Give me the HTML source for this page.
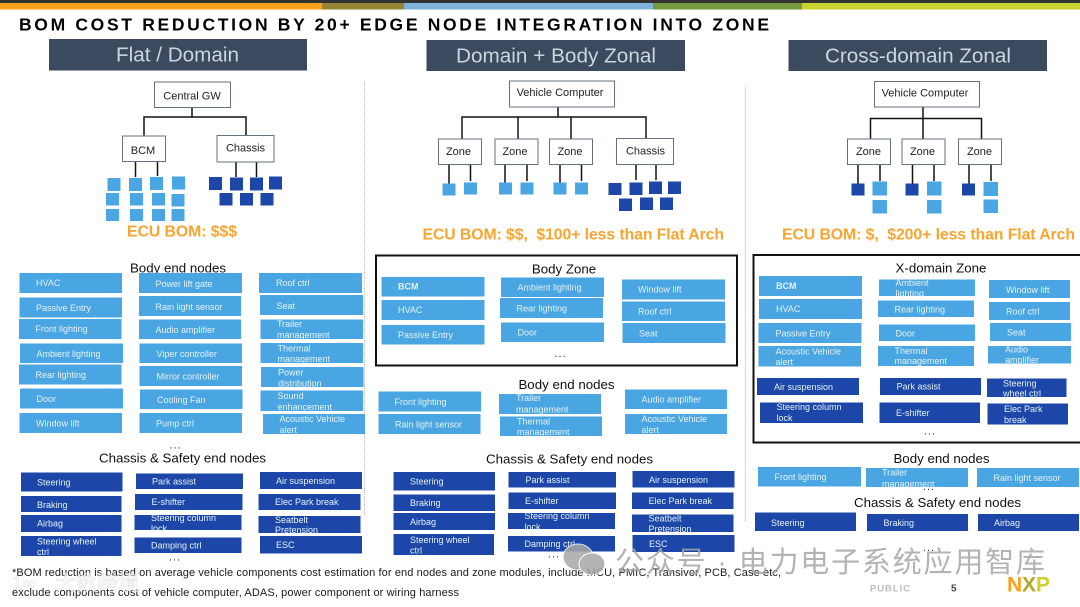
<!DOCTYPE html>
<html><head><meta charset="utf-8"><style>
html,body{margin:0;padding:0;background:#fff;width:1080px;height:607px;overflow:hidden}
svg{display:block;font-family:"Liberation Sans","Noto Sans CJK SC",sans-serif;filter:blur(.35px)}
text{dominant-baseline:central;white-space:pre}
.l{fill:#4aa6e2}.d{fill:#1c47a8}
.t{font-size:9px;fill:#e6f2fb}.b{font-weight:bold}
.h{font-size:13.3px;fill:#111;text-anchor:middle}
.n{fill:#fff;stroke:#64717f;stroke-width:1}
.nt{font-size:11px;fill:#222;text-anchor:middle}
.w{stroke:#111;stroke-width:1.5;fill:none}
.e{font-size:15.8px;font-weight:bold;fill:#f9a42e}
.hd{fill:#3b4a5e}.ht{font-size:20.7px;fill:#cdd5de}
.dots{font-size:11px;fill:#333;text-anchor:middle;letter-spacing:1px}
</style></head><body>
<svg width="1080" height="607" viewBox="0 0 1080 607" xmlns="http://www.w3.org/2000/svg">
<rect width="1080" height="607" fill="#fff"/>
<rect width="1080" height="3" fill="#333"/>
<rect y="3" width="322" height="6.5" fill="#f9a11b"/><rect x="322" y="3" width="82" height="6.5" fill="#958433"/><rect x="404" y="3" width="249" height="6.5" fill="#7fb3dc"/><rect x="653" y="3" width="149" height="6.5" fill="#739a3e"/><rect x="802" y="3" width="278" height="6.5" fill="#c9d22f"/>
<text x="19" y="24.5" font-size="17.5" font-weight="bold" fill="#000" textLength="750">BOM COST REDUCTION BY 20+ EDGE NODE INTEGRATION INTO ZONE</text>

<rect class="hd" x="49" y="39" width="258" height="31.5"/><text class="ht" x="116" y="55" textLength="123">Flat / Domain</text>
<rect class="hd" x="426.5" y="40" width="258.5" height="31"/><text class="ht" x="456" y="56" textLength="200">Domain + Body Zonal</text>
<rect class="hd" x="788.5" y="40" width="258.5" height="31"/><text class="ht" x="825" y="56" textLength="186">Cross-domain Zonal</text>

<line x1="364.5" y1="82" x2="364.5" y2="516" stroke="#bbb" stroke-dasharray="1 1"/>
<line x1="745.5" y1="86" x2="745.5" y2="521" stroke="#bbb" stroke-dasharray="1 1"/>

<!-- Diagram 1 -->
<path class="w" d="M192 107.5V117M144 136V117H246V136M135.5 161.5V177M157.5 161.5V176M236 162V177M256.5 162V177"/>
<rect class="n" x="154.5" y="82" width="76" height="25.5"/><text class="nt" x="192" y="96.5">Central GW</text>
<rect class="n" x="122.5" y="136" width="43" height="25.5"/><text class="nt" x="143" y="151">BCM</text>
<rect class="n" x="217" y="135.5" width="57" height="26.5"/><text class="nt" x="245.5" y="148.5">Chassis</text>
<g class="l"><rect x="107.5" y="178" width="13" height="13"/><rect x="129" y="178" width="13" height="13"/><rect x="150" y="177" width="13" height="13"/><rect x="172" y="176.5" width="13" height="13"/>
<rect x="106" y="193" width="13" height="12.5"/><rect x="130" y="193" width="13" height="12.5"/><rect x="152" y="193" width="13" height="12.5"/><rect x="171.5" y="194" width="13" height="12.5"/>
<rect x="106" y="209" width="13" height="12"/><rect x="130" y="209" width="13" height="12"/><rect x="152" y="209" width="13" height="12"/><rect x="171.5" y="209" width="13" height="12"/></g>
<g class="d"><rect x="209" y="177" width="13" height="13"/><rect x="230" y="177.5" width="13" height="13"/><rect x="250" y="177.5" width="13" height="13"/><rect x="269" y="176.5" width="13" height="13"/>
<rect x="219.5" y="193" width="13" height="12.5"/><rect x="240" y="193" width="13" height="12.5"/><rect x="260.5" y="193" width="13" height="12.5"/></g>
<text class="e" x="127" y="232" textLength="110">ECU BOM: $$$</text>

<!-- Diagram 2 -->
<path class="w" d="M558 107V117M462 139V117H646V138M518 117V139M571 117V139M449 164.5V184M470.5 164.5V181M505 164.5V184M527 164.5V181M560 164.5V184M581.5 164.5V181M636 165V180M656 165V180"/>
<rect class="n" x="509.5" y="81" width="105" height="26"/><text class="nt" x="560" y="93">Vehicle Computer</text>
<rect class="n" x="438.5" y="139" width="43" height="25.5"/><text class="nt" x="458.5" y="152">Zone</text>
<rect class="n" x="495" y="139" width="43" height="25.5"/><text class="nt" x="515" y="152">Zone</text>
<rect class="n" x="549.5" y="139" width="43" height="25.5"/><text class="nt" x="570" y="152">Zone</text>
<rect class="n" x="616.5" y="138.5" width="57" height="26"/><text class="nt" x="645.5" y="151.5">Chassis</text>
<g class="l"><rect x="442.5" y="183.5" width="13" height="12"/><rect x="464" y="182.5" width="13" height="12"/><rect x="499" y="182.5" width="13" height="12"/><rect x="520.5" y="182.5" width="13" height="12"/><rect x="553.5" y="182.5" width="13" height="12"/><rect x="575" y="182.5" width="13" height="12"/></g>
<g class="d"><rect x="608.5" y="183" width="13" height="12"/><rect x="629.5" y="182.5" width="13" height="12.5"/><rect x="649" y="181.5" width="13" height="12.5"/><rect x="668" y="181.5" width="13" height="12.5"/><rect x="619" y="198.5" width="13" height="12.5"/><rect x="640" y="197.5" width="13" height="12.5"/><rect x="660" y="197.5" width="13" height="12.5"/></g>
<text class="e" x="422.5" y="235" textLength="301.5">ECU BOM: $$,  $100+ less than Flat Arch</text>

<!-- Diagram 3 -->
<path class="w" d="M923 107V139M870.5 139V118.5H981.5V139M858 164.5V184M880 164.5V181M912.5 164.5V184M934 164.5V181M969 164.5V184M991 164.5V181"/>
<rect class="n" x="874.5" y="81.5" width="105" height="25.5"/><text class="nt" x="925" y="93.5">Vehicle Computer</text>
<rect class="n" x="847.5" y="139" width="43" height="25.5"/><text class="nt" x="868.5" y="152">Zone</text>
<rect class="n" x="902" y="139" width="43" height="25.5"/><text class="nt" x="922.5" y="152">Zone</text>
<rect class="n" x="958.5" y="139" width="43" height="25.5"/><text class="nt" x="979.5" y="152">Zone</text>
<g class="d"><rect x="851.5" y="183.5" width="13" height="12"/><rect x="905.5" y="183.5" width="13" height="12"/><rect x="962" y="183.5" width="13" height="12"/></g>
<g class="l"><rect x="872.5" y="181.5" width="14.5" height="14"/><rect x="872.5" y="200" width="14.5" height="13.5"/><rect x="927" y="181.5" width="14.5" height="14"/><rect x="927" y="200" width="14.5" height="13.5"/><rect x="983.5" y="182" width="14.5" height="14"/><rect x="983.5" y="199.5" width="14.5" height="13.5"/></g>
<text class="e" x="782" y="235" textLength="293">ECU BOM: $,  $200+ less than Flat Arch</text>

<!-- Column 1 light -->
<text class="h" x="178" y="268">Body end nodes</text>
<g class="l">
<rect x="19.5" y="273" width="102.5" height="20"/><rect x="19.5" y="297.5" width="102.5" height="20"/><rect x="19" y="319" width="102.5" height="20"/><rect x="20" y="343.5" width="103" height="19.5"/><rect x="19" y="364.5" width="102.5" height="20"/><rect x="20" y="388.5" width="103" height="20"/><rect x="19.5" y="413" width="102.5" height="20"/>
<rect x="139" y="273" width="103" height="20"/><rect x="139" y="296" width="102" height="20"/><rect x="139" y="319.5" width="102" height="19.5"/><rect x="139.5" y="343.5" width="102.5" height="19.5"/><rect x="139.5" y="366" width="102.5" height="20"/><rect x="140" y="389.5" width="102.5" height="19.5"/><rect x="139.5" y="413" width="102.5" height="20"/>
<rect x="259" y="273" width="103" height="20"/><rect x="260" y="295" width="103" height="20"/><rect x="260.5" y="319.5" width="102.5" height="19.5"/><rect x="260.5" y="343" width="102.5" height="20"/><rect x="261" y="367" width="102.5" height="20"/><rect x="260.5" y="390.5" width="102.5" height="20.5"/><rect x="263" y="414" width="102" height="20"/>
</g>
<g class="t">
<text x="36" y="283">HVAC</text><text x="36" y="308">Passive Entry</text><text x="35.5" y="329">Front lighting</text><text x="36.5" y="354">Ambient lighting</text><text x="35.5" y="375">Rear lighting</text><text x="36.5" y="399">Door</text><text x="36" y="423.5">Window lift</text>
<text x="155.5" y="284">Power lift gate</text><text x="155.5" y="307">Rain light sensor</text><text x="155.5" y="330">Audio amplifier</text><text x="156.5" y="354">Viper controller</text><text x="156.5" y="376.5">Mirror controller</text><text x="157" y="400">Cooling Fan</text><text x="156" y="423.5">Pump ctrl</text>
<text x="276" y="283">Roof ctrl</text><text x="276.5" y="306">Seat</text><text x="277" y="324">Trailer</text><text x="277" y="335">management</text><text x="277.5" y="348.5">Thermal</text><text x="277.5" y="359">management</text><text x="278" y="372.5">Power</text><text x="278" y="383.5">distribution</text><text x="277.5" y="396">Sound</text><text x="277.5" y="407">enhancement</text><text x="279.5" y="419">Acoustic Vehicle</text><text x="279.5" y="430">alert</text>
</g>
<text class="dots" x="175.5" y="445.5">...</text>
<text class="h" x="182.5" y="458">Chassis &amp; Safety end nodes</text>
<g class="d">
<rect x="21" y="472.5" width="101.5" height="19"/><rect x="21" y="496" width="100.5" height="16"/><rect x="21" y="515" width="100.5" height="17"/><rect x="21" y="536" width="100.5" height="20"/>
<rect x="136" y="473.5" width="107" height="15.5"/><rect x="135" y="494" width="107.5" height="16"/><rect x="134.5" y="515" width="107" height="15"/><rect x="134.5" y="537.5" width="107" height="15.5"/>
<rect x="260" y="472" width="102" height="17"/><rect x="258.5" y="494" width="102" height="16"/><rect x="258.5" y="516" width="102" height="17"/><rect x="260" y="536" width="102" height="17.5"/>
</g>
<g class="t">
<text x="37" y="482.5">Steering</text><text x="37" y="505">Braking</text><text x="37" y="523.5">Airbag</text><text x="37" y="541.5">Steering wheel</text><text x="37" y="552">ctrl</text>
<text x="152" y="481.5">Park assist</text><text x="151.5" y="502">E-shifter</text><text x="151" y="518">Steering column</text><text x="151" y="528.5">lock</text><text x="151" y="545.5">Damping ctrl</text>
<text x="276" y="481">Air suspension</text><text x="275" y="502">Elec Park break</text><text x="275" y="520">Seatbelt</text><text x="275" y="530">Pretension</text><text x="276" y="545">ESC</text>
</g>
<text class="dots" x="175" y="557.5">...</text>

<!-- Column 2 -->
<rect x="376" y="255.5" width="361" height="110" fill="none" stroke="#111" stroke-width="2"/>
<text class="h" x="564" y="269">Body Zone</text>
<g class="l">
<rect x="381.5" y="277" width="103" height="19.5"/><rect x="381.5" y="300" width="103" height="20"/><rect x="381.5" y="325" width="103" height="19.5"/>
<rect x="501" y="277.5" width="103" height="19.5"/><rect x="500" y="298" width="103" height="20"/><rect x="501" y="322.5" width="103" height="19.5"/>
<rect x="622" y="279.5" width="103" height="20"/><rect x="622" y="301.5" width="103" height="19.5"/><rect x="622.5" y="323" width="103" height="20"/>
<rect x="378.5" y="391.5" width="102.5" height="20"/><rect x="378.5" y="414" width="102" height="20"/>
<rect x="499" y="394" width="102" height="20"/><rect x="500" y="416.5" width="102" height="19.5"/>
<rect x="625" y="389.5" width="102" height="19.5"/><rect x="625" y="414" width="102" height="20"/>
</g>
<g class="t">
<text class="b" x="398" y="286.5">BCM</text><text x="398" y="310">HVAC</text><text x="398" y="335">Passive Entry</text>
<text x="517.5" y="287.5">Ambient lighting</text><text x="516.5" y="308.5">Rear lighting</text><text x="517.5" y="332.5">Door</text>
<text x="638" y="289.5">Window lift</text><text x="638" y="311.5">Roof ctrl</text><text x="639" y="333.5">Seat</text>
<text x="394.5" y="402">Front lighting</text><text x="395" y="424.5">Rain light sensor</text>
<text x="516" y="398">Trailer</text><text x="516" y="409.5">management</text><text x="517" y="421.5">Thermal</text><text x="517" y="432">management</text>
<text x="641.5" y="399.5">Audio amplifier</text><text x="641.5" y="419">Acoustic Vehicle</text><text x="641.5" y="430">alert</text>
</g>
<text class="dots" x="560.5" y="354">...</text>
<text class="h" x="566.5" y="384.5">Body end nodes</text>
<text class="h" x="569.5" y="459">Chassis &amp; Safety end nodes</text>
<g class="d">
<rect x="393.5" y="472" width="101.5" height="18.5"/><rect x="393.5" y="494.5" width="101.5" height="16.5"/><rect x="393.5" y="513" width="101.5" height="17"/><rect x="393.5" y="534" width="100.5" height="21"/>
<rect x="508.5" y="472" width="107.5" height="15.5"/><rect x="508.5" y="492.5" width="107.5" height="16.5"/><rect x="508" y="513" width="107" height="16"/><rect x="508" y="536" width="107" height="15.5"/>
<rect x="632.5" y="471" width="102" height="16.5"/><rect x="632" y="492.5" width="101.5" height="16.5"/><rect x="632" y="514.5" width="101.5" height="17.5"/><rect x="632.5" y="535" width="102" height="17"/>
</g>
<g class="t">
<text x="410" y="481.5">Steering</text><text x="410" y="503">Braking</text><text x="410" y="522">Airbag</text><text x="410" y="540">Steering wheel</text><text x="410" y="550.5">ctrl</text>
<text x="525.5" y="480">Park assist</text><text x="525" y="501">E-shifter</text><text x="524.5" y="516">Steering column</text><text x="524.5" y="527">lock</text><text x="524.5" y="544">Damping ctrl</text>
<text x="649" y="480">Air suspension</text><text x="648.5" y="501">Elec Park break</text><text x="648.5" y="518.5">Seatbelt</text><text x="648.5" y="529">Pretension</text><text x="649" y="544">ESC</text>
</g>
<text class="dots" x="554" y="554.5">...</text>

<!-- Column 3 -->
<rect x="753.5" y="255" width="330" height="187.5" fill="none" stroke="#111" stroke-width="2"/>
<text class="h" x="941" y="268">X-domain Zone</text>
<g class="l">
<rect x="759" y="276" width="103" height="20"/><rect x="759" y="299" width="103" height="20"/><rect x="758.5" y="323" width="103" height="20"/><rect x="758.5" y="346" width="102.5" height="20.5"/>
<rect x="879" y="279.5" width="96" height="16.5"/><rect x="878" y="300.5" width="96" height="16.5"/><rect x="879" y="324.5" width="96" height="16.5"/><rect x="878" y="346" width="96" height="20"/>
<rect x="989" y="280" width="81" height="18"/><rect x="989" y="302" width="81" height="18"/><rect x="990" y="323" width="81" height="18"/><rect x="988" y="346" width="83" height="17.5"/>
<rect x="758" y="467" width="103" height="19.5"/><rect x="866" y="468" width="102" height="19"/><rect x="977" y="468" width="102" height="19"/>
</g>
<g class="d">
<rect x="757" y="378" width="102" height="17"/><rect x="760" y="402.5" width="103" height="20.5"/>
<rect x="880" y="378" width="101" height="17"/><rect x="879.5" y="402.5" width="100.5" height="20.5"/>
<rect x="987" y="378.5" width="79.5" height="18.5"/><rect x="987.5" y="403.5" width="80.5" height="21"/>
<rect x="755" y="512.5" width="101" height="18.5"/><rect x="867" y="514" width="101" height="17"/><rect x="978" y="514" width="101" height="17"/>
</g>
<g class="t">
<text class="b" x="776" y="286">BCM</text><text x="776" y="309">HVAC</text><text x="775.5" y="333.5">Passive Entry</text><text x="775.5" y="351.5">Acoustic Vehicle</text><text x="775.5" y="362">alert</text>
<text x="895.5" y="283">Ambient</text><text x="895.5" y="293.5">lighting</text><text x="894.5" y="309.5">Rear lighting</text><text x="895.5" y="333.5">Door</text><text x="894.5" y="351">Thermal</text><text x="894.5" y="361">management</text>
<text x="1006" y="290">Window lift</text><text x="1006" y="311.5">Roof ctrl</text><text x="1007" y="332.5">Seat</text><text x="1005" y="349.5">Audio</text><text x="1005" y="360">amplifier</text>
<text x="774" y="387">Air suspension</text><text x="776.5" y="407">Steering column</text><text x="776.5" y="418">lock</text><text x="896.5" y="386.5">Park assist</text><text x="896" y="413">E-shifter</text>
<text x="1003" y="383.5">Steering</text><text x="1003" y="393.5">wheel ctrl</text><text x="1004" y="409">Elec Park</text><text x="1004" y="420">break</text>
<text x="774.5" y="477">Front lighting</text><text x="882" y="472.5">Trailer</text><text x="882" y="484">management</text><text x="993.5" y="478">Rain light sensor</text>
<text x="771" y="523">Steering</text><text x="883.5" y="523">Braking</text><text x="994" y="523">Airbag</text>
</g>
<text class="dots" x="930" y="431.5">...</text>
<text class="h" x="941.5" y="458.5">Body end nodes</text>
<text class="dots" x="929" y="487">...</text>
<text class="h" x="937.5" y="502.5">Chassis &amp; Safety end nodes</text>
<text class="dots" x="929" y="548">...</text>

<!-- Footnote -->
<text x="12" y="573" font-size="11" fill="#1a1a1a" textLength="769">*BOM reduction is based on average vehicle components cost estimation for end nodes and zone modules, include MCU, PMIC, Transiver, PCB, Case etc,</text>
<text x="12" y="593" font-size="11" fill="#1a1a1a" textLength="447">exclude components cost of vehicle computer, ADAS, power component or wiring harness</text>

<!-- Footer -->
<text x="870" y="589" font-size="9.5" font-weight="bold" fill="#bdbdbd" textLength="40">PUBLIC</text>
<text x="951" y="589" font-size="10" font-weight="bold" fill="#444">5</text>
<text x="1007" y="585" font-size="21" font-weight="bold" fill="#f9a11b">N</text>
<text x="1022" y="585" font-size="21" font-weight="bold" fill="#b5a92a">X</text>
<text x="1036" y="585" font-size="21" font-weight="bold" fill="#c9d22f">P</text>

<!-- Watermarks -->
<g fill="#a8a8a8" stroke="#fff" stroke-width="1" opacity=".85"><ellipse cx="578" cy="557" rx="15" ry="13"/><ellipse cx="592" cy="564" rx="13" ry="11"/></g>
<text x="615" y="563" font-size="29" fill="#a6a6a6" opacity=".85" textLength="430">公众号 · 电力电子系统应用智库</text>
<text x="12" y="584" font-size="19" fill="#fff" stroke="#ccc" stroke-width=".4" opacity=".75">1∞</text>
<text x="55" y="584" font-size="21" fill="#fff" stroke="#ccc" stroke-width=".4" opacity=".75">大数跨境</text>
</svg>
</body></html>
